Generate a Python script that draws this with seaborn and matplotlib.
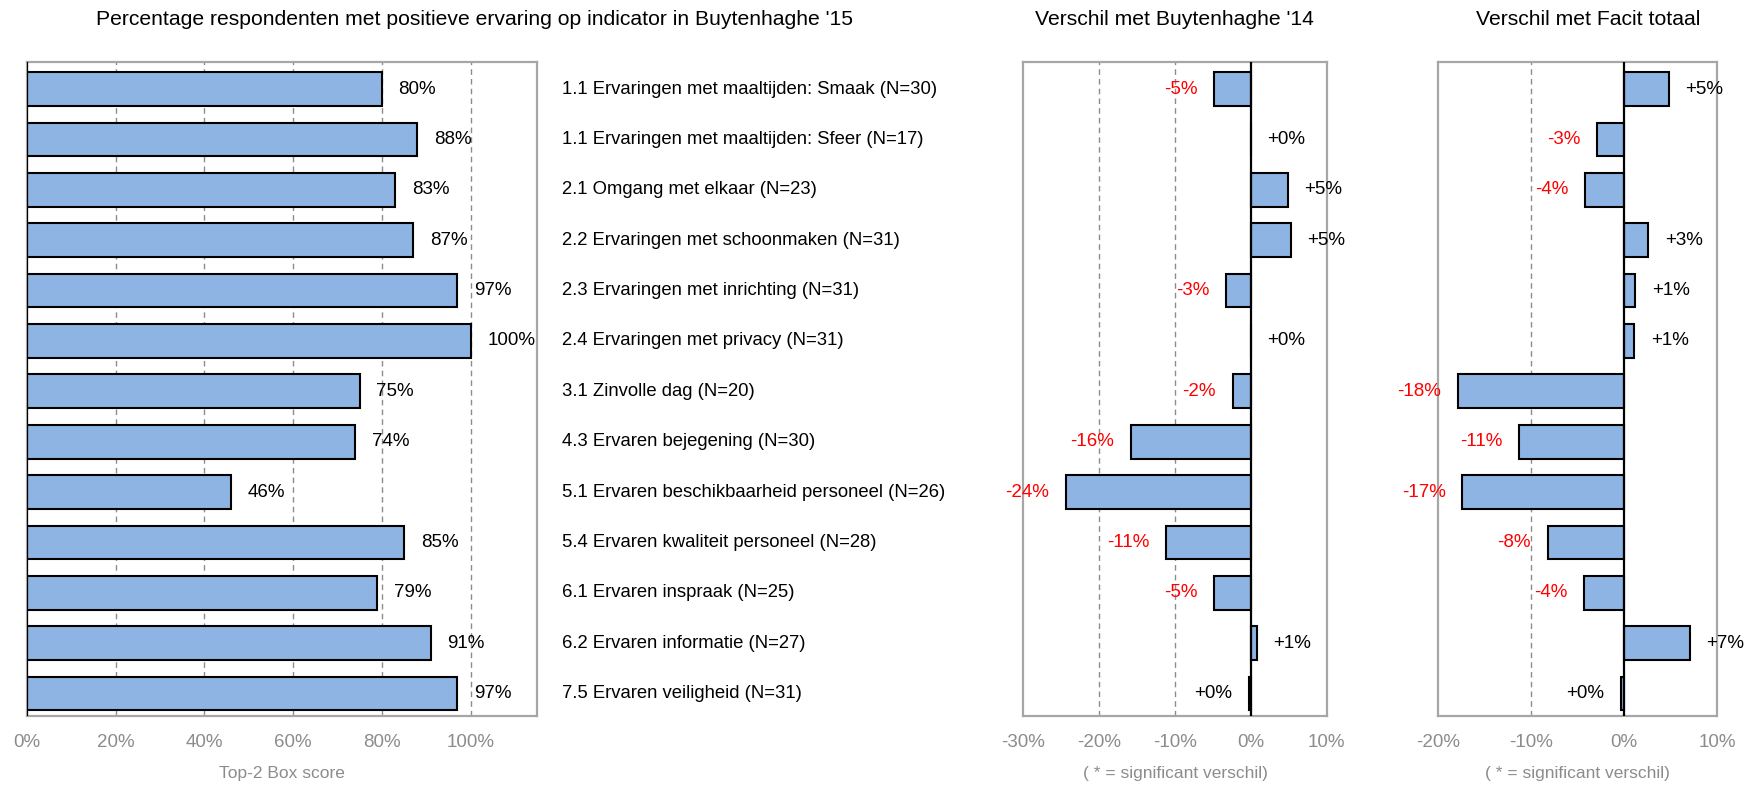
import matplotlib
matplotlib.use("Agg")
import matplotlib.pyplot as plt
import matplotlib.transforms as mtransforms
import seaborn as sns
import pandas as pd

# Indicators, top-2 box scores and differences (percentage points)
indicators = [
    "1.1 Ervaringen met maaltijden: Smaak (N=30)",
    "1.1 Ervaringen met maaltijden: Sfeer (N=17)",
    "2.1 Omgang met elkaar (N=23)",
    "2.2 Ervaringen met schoonmaken (N=31)",
    "2.3 Ervaringen met inrichting (N=31)",
    "2.4 Ervaringen met privacy (N=31)",
    "3.1 Zinvolle dag (N=20)",
    "4.3 Ervaren bejegening (N=30)",
    "5.1 Ervaren beschikbaarheid personeel (N=26)",
    "5.4 Ervaren kwaliteit personeel (N=28)",
    "6.1 Ervaren inspraak (N=25)",
    "6.2 Ervaren informatie (N=27)",
    "7.5 Ervaren veiligheid (N=31)",
]
top2_score = [80, 88, 83, 87, 97, 100, 75, 74, 46, 85, 79, 91, 97]
diff_vorig_jaar = [-4.8, 0.0, 4.9, 5.3, -3.3, 0.0, -2.4, -15.8, -24.4, -11.2, -4.8, 0.8, -0.2]
diff_facit = [4.8, -2.9, -4.2, 2.6, 1.2, 1.1, -17.9, -11.3, -17.4, -8.2, -4.3, 7.1, -0.3]

x1_ticks = [0, 20, 40, 60, 80, 100]
x2_ticks = [-30, -20, -10, 0, 10]
x3_ticks = [-20, -10, 0, 10]

BAR_COLOR = "#8DB4E2"
SPINE_GRAY = "#A6A6A6"
GRID_GRAY = "#8C8C8C"
TICK_GRAY = "#8C8C8C"

sns.set_theme(style="white")
plt.rcParams["font.family"] = ["Liberation Sans", "DejaVu Sans"]

fig = plt.figure(figsize=(17.48, 7.85), dpi=100)
bottom, height = 0.0883, 0.8322
ax1 = fig.add_axes([0.0153, bottom, 0.2921, height])
ax2 = fig.add_axes([0.5855, bottom, 0.1734, height])
ax3 = fig.add_axes([0.8227, bottom, 0.1595, height])

df = pd.DataFrame({
    "indicator": indicators,
    "score": top2_score,
    "vorig": diff_vorig_jaar,
    "facit": diff_facit,
})


def fmt_diff(v):
    r = int(round(v))
    return f"{r:+d}%", ("red" if r < 0 else "black")


def style_axis(ax, xlim, ticks, grid_at):
    ax.set_xlim(*xlim)
    ax.set_ylim(len(indicators) - 0.56, -0.53)
    ax.set_xticks(ticks)
    ax.set_xticklabels([f"{t}%" for t in ticks])
    ax.tick_params(axis="x", length=0, pad=13, labelsize=13.5, labelcolor=TICK_GRAY)
    ax.tick_params(axis="y", left=False, labelleft=False)
    ax.set_ylabel("")
    for g in grid_at:
        ax.axvline(g, color=GRID_GRAY, lw=1.0, ls=(0, (4, 3)), zorder=0)
    for s in ax.spines.values():
        s.set_color(SPINE_GRAY)
        s.set_linewidth(1.6)
    ax.axvline(0, color="black", lw=1.6, zorder=4)


# Panel 1: top-2 box scores
sns.barplot(data=df, x="score", y="indicator", orient="h", color=BAR_COLOR,
            saturation=1, edgecolor="black", linewidth=1.5, width=0.67, ax=ax1)
style_axis(ax1, (0, 115), x1_ticks, [20, 40, 60, 80, 100])
ax1.set_xlabel("Top-2 Box score", fontsize=12.5, color=TICK_GRAY, labelpad=11)
for i, v in enumerate(top2_score):
    ax1.annotate(f"{v}%", xy=(v, i), xytext=(12, 0), textcoords="offset points",
                 ha="left", va="center", fontsize=13.5, color="black")

# Indicator names between the panels
lab_tr = mtransforms.blended_transform_factory(fig.transFigure, ax1.transData)
for i, name in enumerate(indicators):
    ax1.text(0.3215, i, name, transform=lab_tr, ha="left", va="center",
             fontsize=13.3, color="black", clip_on=False)

# Panel 2: difference with previous year
sns.barplot(data=df, x="vorig", y="indicator", orient="h", color=BAR_COLOR,
            saturation=1, edgecolor="black", linewidth=1.5, width=0.67, ax=ax2)
style_axis(ax2, (-30, 10), x2_ticks, [-20, -10])
ax2.set_xlabel("( * = significant verschil)", fontsize=12.5, color=TICK_GRAY, labelpad=11)

# Panel 3: difference with benchmark
sns.barplot(data=df, x="facit", y="indicator", orient="h", color=BAR_COLOR,
            saturation=1, edgecolor="black", linewidth=1.5, width=0.67, ax=ax3)
style_axis(ax3, (-20, 10), x3_ticks, [-10])
ax3.set_xlabel("( * = significant verschil)", fontsize=12.5, color=TICK_GRAY, labelpad=11)

for ax, vals in ((ax2, diff_vorig_jaar), (ax3, diff_facit)):
    for i, v in enumerate(vals):
        txt, col = fmt_diff(v)
        off, ha = (12, "left") if v >= 0 else (-12, "right")
        ax.annotate(txt, xy=(v, i), xytext=(off, 0), textcoords="offset points",
                    ha=ha, va="center", fontsize=13.5, color=col, clip_on=False)

# Panel titles
fig.text(0.2716, 0.975, "Percentage respondenten met positieve ervaring op indicator in Buytenhaghe '15",
         ha="center", va="center", fontsize=15.2, color="black")
fig.text(0.6717, 0.975, "Verschil met Buytenhaghe '14", ha="center", va="center",
         fontsize=15.2, color="black")
fig.text(0.9085, 0.975, "Verschil met Facit totaal", ha="center", va="center",
         fontsize=15.2, color="black")

fig.savefig("out.png", dpi=100, facecolor="white")
